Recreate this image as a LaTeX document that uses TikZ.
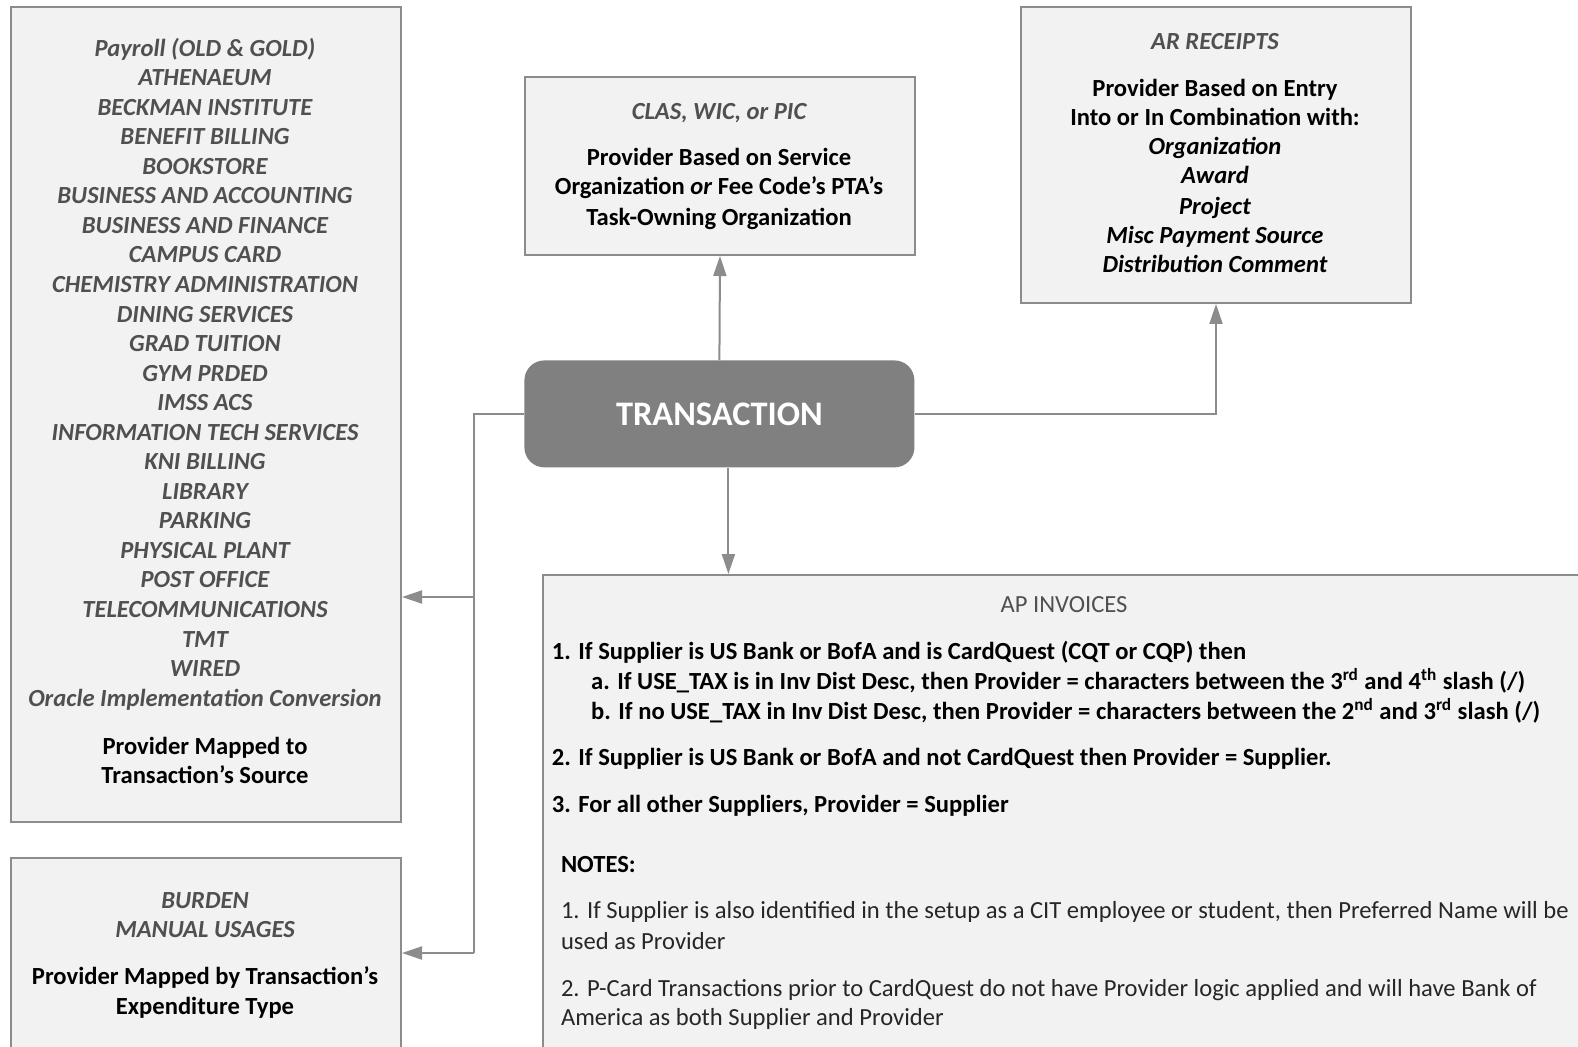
\documentclass[tikz,border=0pt]{standalone}
\usepackage{fontspec}
\setmainfont{Carlito}
\usetikzlibrary{arrows.meta}
\definecolor{boxfill}{HTML}{F2F2F2}
\definecolor{boxline}{HTML}{8C8C8C}
\definecolor{linec}{HTML}{8C8C8C}
\definecolor{headc}{HTML}{505050}
\definecolor{transc}{HTML}{808080}
\definecolor{notec}{HTML}{262626}
\tikzset{
  box/.style={draw=boxline, fill=boxfill, line width=1pt, inner sep=0pt, anchor=north west},
  conn/.style={draw=linec, line width=1pt},
  arr/.style={conn, -{Triangle[length=10pt,width=6.5pt]}},
  txt/.style={inner sep=0pt, anchor=mid, yshift=-1.5pt},
  hd/.style={txt, font=\bfseries\itshape\fontsize{12.3}{14}\selectfont, text=headc},
  bd/.style={txt, font=\bfseries\fontsize{12.3}{14}\selectfont, text=black},
  bi/.style={txt, font=\bfseries\itshape\fontsize{12.3}{14}\selectfont, text=black},
  apl/.style={bd, anchor=mid west},
  note/.style={txt, font=\fontsize{12.3}{14}\selectfont, text=notec, anchor=mid west},
}
\begin{document}
\begin{tikzpicture}[x=0.5pt,y=-0.5pt]
\useasboundingbox (0,0) rectangle (1578,1047);
\clip (0,0) rectangle (1578,1047);
\fill[white] (0,0) rectangle (1578,1047);

% boxes
\node[box, minimum width=195pt, minimum height=407.5pt] (left1) at (10,6) {};
\node[box, minimum width=195pt, minimum height=102pt] (left2) at (10,857) {};
\node[box, minimum width=195pt, minimum height=89pt] (clas) at (524,76) {};
\node[box, minimum width=195pt, minimum height=148pt] (ar) at (1020,6) {};
\node[box, minimum width=525pt, minimum height=245pt] (ap) at (542,574) {};
\node[draw=none, fill=transc, rounded corners=10pt, inner sep=0pt, minimum width=195pt, minimum height=53.5pt,
      anchor=north west] (trans) at (524,360) {};
\node[font=\bfseries\fontsize{17.2}{20}\selectfont, text=white, inner sep=0pt] (transt) at (trans.center) {TRANSACTION};

% left list
\foreach \t [count=\i from 0] in {Payroll (OLD \& GOLD), ATHENAEUM, BECKMAN INSTITUTE, BENEFIT BILLING, BOOKSTORE,
  BUSINESS AND ACCOUNTING, BUSINESS AND FINANCE, CAMPUS CARD, CHEMISTRY ADMINISTRATION, DINING SERVICES,
  GRAD TUITION, GYM PRDED, IMSS ACS, INFORMATION TECH SERVICES, KNI BILLING, LIBRARY, PARKING, PHYSICAL PLANT,
  POST OFFICE, TELECOMMUNICATIONS, TMT, WIRED, Oracle Implementation Conversion}
  \node[hd] (l\i) at (205,{48.3+29.55*\i}) {\t};
\node[bd] (l1a) at (205,746.7) {Provider Mapped to};
\node[bd] (l1b) at (205,775.9) {Transaction’s Source};

% left2
\node[hd] (l2a) at (205,900.5) {BURDEN};
\node[hd] (l2b) at (205,929.6) {MANUAL USAGES};
\node[bd] (l2c) at (205,977.2) {Provider Mapped by Transaction’s};
\node[bd] (l2d) at (205,1006.4) {Expenditure Type};

% clas
\node[hd] (c0) at (719,111.7) {CLAS, WIC, or PIC};
\node[bd] (c1) at (719,158) {Provider Based on Service};
\node[bd] (c2) at (719,187.2) {Organization \textit{or} Fee Code’s PTA’s};
\node[bd] (c3) at (719,217.4) {Task-Owning Organization};

% ar
\node[hd] (a0) at (1215,41.3) {AR RECEIPTS};
\node[bd] (a1) at (1215,88.6) {Provider Based on Entry};
\node[bd] (a2) at (1215,117.7) {Into or In Combination with:};
\node[bi] (a3) at (1215,146.9) {Organization};
\node[bi] (a4) at (1215,176.1) {Award};
\node[bi] (a5) at (1215,206.3) {Project};
\node[bi] (a6) at (1215,235.5) {Misc Payment Source};
\node[bi] (a7) at (1215,264.7) {Distribution Comment};

% ap
\node[txt, font=\fontsize{12.3}{14}\selectfont, text=headc] (p0) at (1064,604.9) {AP INVOICES};
\node[apl] (p1) at (551.5,652.1) {1. If Supplier is US Bank or BofA and is CardQuest (CQT or CQP) then};
\node[apl] (p2) at (590.8,681.3) {a. If USE\_TAX is in Inv Dist Desc, then Provider = characters between the 3\textsuperscript{rd} and 4\textsuperscript{th} slash (/)};
\node[apl] (p3) at (590.8,711.5) {b. If no USE\_TAX in Inv Dist Desc, then Provider = characters between the 2\textsuperscript{nd} and 3\textsuperscript{rd} slash (/)};
\node[apl] (p4) at (551.5,757.8) {2. If Supplier is US Bank or BofA and not CardQuest then Provider = Supplier.};
\node[apl] (p5) at (551.5,805.1) {3. For all other Suppliers, Provider = Supplier};
\node[apl] (n0) at (560.6,864.5) {NOTES:};
\node[note] (n1) at (560.6,910.8) {1. If Supplier is also identified in the setup as a CIT employee or student, then Preferred Name will be};
\node[note] (n2) at (560.6,942.0) {used as Provider};
\node[note] (n3) at (560.6,988.3) {2. P-Card Transactions prior to CardQuest do not have Provider logic applied and will have Bank of};
\node[note] (n4) at (560.6,1017.5) {America as both Supplier and Provider};

% connectors
\draw[arr] (trans.north) -- (clas.south);
\draw[arr] (trans.east) -| (ar.south);
\draw[arr] ([xshift=4.5pt]trans.south) -- ([xshift=4.5pt]trans.south |- ap.north);
\coordinate (ja) at (474,597);
\coordinate (jb) at (474,953);
\draw[conn] (trans.west) -| (jb);
\draw[arr] (ja) -- (ja -| left1.east);
\draw[arr] (jb) -- (jb -| left2.east);
\end{tikzpicture}
\end{document}
